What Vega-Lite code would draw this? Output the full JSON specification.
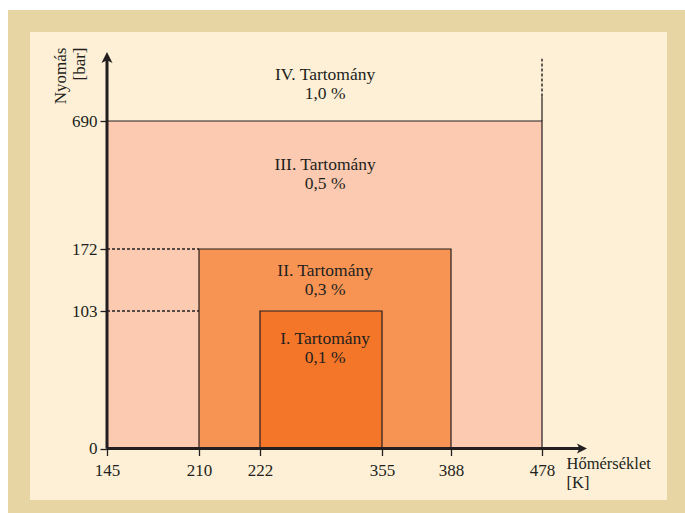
{
  "$schema": "https://vega.github.io/schema/vega-lite/v6.json",
  "width": 659,
  "height": 490,
  "autosize": {"type": "none"},
  "padding": {"left": 19, "top": 21, "right": 7, "bottom": 2},
  "background": "#ffffff",
  "config": {
    "view": {"fill": "#fdf0d6", "stroke": "#e8d5a4", "strokeWidth": 22},
    "font": "Liberation Serif",
    "text": {"font": "Liberation Serif"}
  },
  "datasets": {
    "regions": [
      {"region": "III", "t0": 145, "t1": 478, "p0": 0, "p1": 690},
      {"region": "II", "t0": 210, "t1": 388, "p0": 0, "p1": 172},
      {"region": "I", "t0": 222, "t1": 355, "p0": 0, "p1": 103}
    ],
    "guides": [
      {"t0": 145, "t1": 210, "p0": 172, "p1": 172},
      {"t0": 145, "t1": 210, "p0": 103, "p1": 103},
      {"t0": 478, "t1": 478, "p0": 800, "p1": 970}
    ],
    "solid": [
      {"t0": 478, "t1": 478, "p0": 690, "p1": 800}
    ],
    "axes": [
      {"t0": 145, "t1": 515, "p0": 0, "p1": 0},
      {"t0": 145, "t1": 145, "p0": 0, "p1": 980}
    ],
    "tipUp": [{"t": 145, "p": 1000}],
    "tipRight": [{"t": 520, "p": 0}],
    "labels": [
      {"t": 293, "p": 874, "label": "IV. Tartomány\n1,0 %"},
      {"t": 293, "p": 492, "label": "III. Tartomány\n0,5 %"},
      {"t": 293, "p": 142, "label": "II. Tartomány\n0,3 %"},
      {"t": 293, "p": 78.3, "label": "I. Tartomány\n0,1 %"}
    ]
  },
  "layer": [
    {
      "data": {"name": "regions"},
      "mark": {"type": "rect", "stroke": "#231f20", "strokeWidth": 1.2},
      "encoding": {
        "x": {
          "field": "t0", "type": "quantitative",
          "scale": {"type": "linear", "domain": [145, 210, 222, 355, 388, 478, 520], "range": [88, 180, 241, 363, 432, 523, 568], "zero": false, "nice": false},
          "axis": {
            "values": [145, 210, 222, 355, 388, 478],
            "domain": false, "grid": false,
            "ticks": true, "tickSize": 7, "tickColor": "#231f20", "tickWidth": 1.3,
            "labelFont": "Liberation Serif", "labelFontSize": 17, "labelColor": "#231f20",
            "labelPadding": 6.6, "labelOverlap": false, "labelFlush": false, "labelBound": false,
            "offset": -62.5, "zindex": 1,
            "title": ["Hőmérséklet", "[K]"],
            "titleFont": "Liberation Serif", "titleFontSize": 16.5, "titleFontWeight": "normal", "titleColor": "#231f20",
            "titleAlign": "left", "titleBaseline": "top", "titleAngle": 0,
            "titleX": 547, "titleY": 7, "titleLineHeight": 19
          }
        },
        "x2": {"field": "t1"},
        "y": {
          "field": "p0", "type": "quantitative",
          "scale": {"type": "linear", "domain": [0, 103, 172, 690, 1000], "range": [427.5, 290, 228, 100, 31], "zero": false, "nice": false},
          "axis": {
            "values": [0, 103, 172, 690],
            "domain": false, "grid": false,
            "ticks": true, "tickSize": 7, "tickColor": "#231f20", "tickWidth": 1.3,
            "labelFont": "Liberation Serif", "labelFontSize": 17, "labelColor": "#231f20",
            "labelPadding": 3, "labelOverlap": false, "labelBound": false, "labelFlush": false,
            "offset": -88, "zindex": 1,
            "title": ["Nyomás", "[bar]"],
            "titleFont": "Liberation Serif", "titleFontSize": 17, "titleFontWeight": "normal", "titleColor": "#231f20",
            "titleAngle": 270, "titleAlign": "right", "titleBaseline": "top",
            "titleX": -54.5, "titleY": 26, "titleLineHeight": 19
          }
        },
        "y2": {"field": "p1"},
        "fill": {
          "field": "region", "type": "nominal",
          "scale": {"domain": ["III", "II", "I"], "range": ["#fbcab0", "#f79454", "#f47628"]},
          "legend": null
        }
      }
    },
    {
      "data": {"name": "guides"},
      "mark": {"type": "rule", "stroke": "#231f20", "strokeWidth": 1.4, "strokeDash": [3, 2]},
      "encoding": {
        "x": {"field": "t0", "type": "quantitative"},
        "x2": {"field": "t1"},
        "y": {"field": "p0", "type": "quantitative"},
        "y2": {"field": "p1"}
      }
    },
    {
      "data": {"name": "solid"},
      "mark": {"type": "rule", "stroke": "#231f20", "strokeWidth": 1.2},
      "encoding": {
        "x": {"field": "t0", "type": "quantitative"},
        "x2": {"field": "t1"},
        "y": {"field": "p0", "type": "quantitative"},
        "y2": {"field": "p1"}
      }
    },
    {
      "data": {"name": "axes"},
      "mark": {"type": "rule", "stroke": "#231f20", "strokeWidth": 3},
      "encoding": {
        "x": {"field": "t0", "type": "quantitative"},
        "x2": {"field": "t1"},
        "y": {"field": "p0", "type": "quantitative"},
        "y2": {"field": "p1"}
      }
    },
    {
      "data": {"name": "tipUp"},
      "mark": {"type": "point", "shape": "M0,0 L0.45,0.9 L0,0.68 L-0.45,0.9 Z", "size": 600, "filled": true, "fill": "#231f20", "opacity": 1, "strokeWidth": 0},
      "encoding": {
        "x": {"field": "t", "type": "quantitative"},
        "y": {"field": "p", "type": "quantitative"}
      }
    },
    {
      "data": {"name": "tipRight"},
      "mark": {"type": "point", "shape": "M0,0 L-0.9,-0.45 L-0.68,0 L-0.9,0.45 Z", "size": 500, "filled": true, "fill": "#231f20", "opacity": 1, "strokeWidth": 0},
      "encoding": {
        "x": {"field": "t", "type": "quantitative"},
        "y": {"field": "p", "type": "quantitative"}
      }
    },
    {
      "data": {"name": "labels"},
      "mark": {"type": "text", "font": "Liberation Serif", "fontSize": 17.5, "color": "#231f20", "align": "center", "baseline": "alphabetic", "lineBreak": "\n", "lineHeight": 19},
      "encoding": {
        "x": {"field": "t", "type": "quantitative"},
        "y": {"field": "p", "type": "quantitative"},
        "text": {"field": "label", "type": "nominal"}
      }
    }
  ]
}
